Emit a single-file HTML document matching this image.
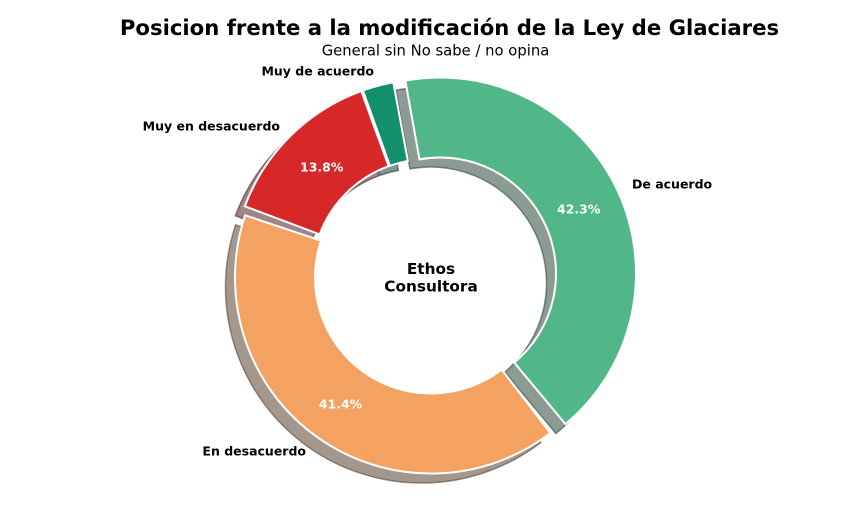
<!DOCTYPE html>
<html>
<head>
<meta charset="utf-8">
<style>
html,body{margin:0;padding:0;background:#ffffff;}
svg{display:block;}
text{font-family:"DejaVu Sans","Liberation Sans",sans-serif;}
</style>
</head>
<body>
<svg width="842" height="510" viewBox="0 0 842 510" xmlns="http://www.w3.org/2000/svg">
<rect x="0" y="0" width="842" height="510" fill="#ffffff"/>

<!-- shadows -->
<g transform="translate(-9.5,9.5)" stroke-width="1.5">
  <path d="M565.46,424.09 A196,196 0 0 0 405.29,80.60 L419.46,159.33 A116,116 0 0 1 514.25,362.62 Z" fill="#193729" fill-opacity="0.5" stroke="#193729" stroke-opacity="0.5"/>
  <path d="M393.29,82.27 A196,196 0 0 0 362.93,90.47 L389.90,165.79 A116,116 0 0 1 407.86,160.94 Z" fill="#062c20" fill-opacity="0.5" stroke="#062c20" stroke-opacity="0.5"/>
  <path d="M361.27,91.02 A196,196 0 0 0 244.82,206.25 L319.71,234.39 A116,116 0 0 1 388.63,166.19 Z" fill="#400c0c" fill-opacity="0.5" stroke="#400c0c" stroke-opacity="0.5"/>
  <path d="M245.13,215.31 A196,196 0 0 0 550.32,433.01 L501.62,369.53 A116,116 0 0 1 321.0,240.69 Z" fill="#49311d" fill-opacity="0.5" stroke="#49311d" stroke-opacity="0.5"/>
</g>

<!-- wedges -->
<g stroke="#ffffff" stroke-width="2" stroke-linejoin="miter">
  <path d="M565.46,424.09 A196,196 0 0 0 405.29,80.60 L419.46,159.33 A116,116 0 0 1 514.25,362.62 Z" fill="#52b788"/>
  <path d="M393.29,82.27 A196,196 0 0 0 362.93,90.47 L389.90,165.79 A116,116 0 0 1 407.86,160.94 Z" fill="#12906b"/>
  <path d="M361.27,91.02 A196,196 0 0 0 244.82,206.25 L319.71,234.39 A116,116 0 0 1 388.63,166.19 Z" fill="#d62828"/>
  <path d="M245.13,215.31 A196,196 0 0 0 550.32,433.01 L501.62,369.53 A116,116 0 0 1 321.0,240.69 Z" fill="#f4a261"/>
</g>

<!-- titles -->
<text x="449.5" y="35" text-anchor="middle" font-size="21.2" font-weight="bold" fill="#000000">Posicion frente a la modificación de la Ley de Glaciares</text>
<text x="435.5" y="55.5" text-anchor="middle" font-size="14.8" fill="#000000">General sin No sabe / no opina</text>

<!-- category labels -->
<text x="374" y="75.7" text-anchor="end" font-size="12.5" font-weight="bold" fill="#000000">Muy de acuerdo</text>
<text x="280" y="130.5" text-anchor="end" font-size="12.5" font-weight="bold" fill="#000000">Muy en desacuerdo</text>
<text x="632" y="188.3" text-anchor="start" font-size="12.5" font-weight="bold" fill="#000000">De acuerdo</text>
<text x="306" y="455.5" text-anchor="end" font-size="12.5" font-weight="bold" fill="#000000">En desacuerdo</text>

<!-- percentages -->
<text x="321.7" y="171.5" text-anchor="middle" font-size="12.5" font-weight="bold" fill="#ffffff">13.8%</text>
<text x="578.7" y="213.5" text-anchor="middle" font-size="12.5" font-weight="bold" fill="#ffffff">42.3%</text>
<text x="340.5" y="408.3" text-anchor="middle" font-size="12.5" font-weight="bold" fill="#ffffff">41.4%</text>

<!-- center text -->
<text x="431" y="274" text-anchor="middle" font-size="15.3" font-weight="bold" fill="#000000">Ethos</text>
<text x="431" y="291.7" text-anchor="middle" font-size="15.3" font-weight="bold" fill="#000000">Consultora</text>
</svg>
</body>
</html>
